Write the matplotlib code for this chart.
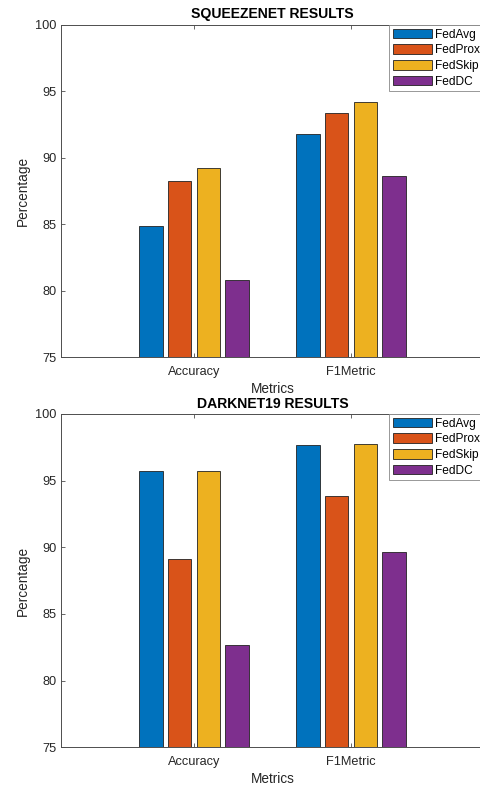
import matplotlib
matplotlib.use("Agg")
import matplotlib.pyplot as plt
import numpy as np

plt.rcParams['font.family'] = ['Liberation Sans', 'DejaVu Sans']

categories = ["Accuracy", "F1Metric"]
methods = ["FedAvg", "FedProx", "FedSkip", "FedDC"]
squeezenet_vals = {
    "FedAvg": [84.9, 91.77],
    "FedProx": [88.26, 93.36],
    "FedSkip": [89.22, 94.21],
    "FedDC": [80.79, 88.64],
}
darknet_vals = {
    "FedAvg": [95.7, 97.67],
    "FedProx": [89.1, 93.82],
    "FedSkip": [95.7, 97.72],
    "FedDC": [82.67, 89.65],
}
titles = ["SQUEEZENET RESULTS", "DARKNET19 RESULTS"]
colors = ["#0072BD", "#D95319", "#EDB120", "#7E2F8E"]

fig = plt.figure(figsize=(4.8, 7.87), dpi=100)
axes_rects = [
    [61/480, 1-357.3/787, (484-61)/480, 332.3/787],
    [61/480, 1-747.3/787, (484-61)/480, 333.3/787],
]
axcol = "#4d4d4d"
for k, (rect, data, title) in enumerate(zip(axes_rects, [squeezenet_vals, darknet_vals], titles)):
    ax = fig.add_axes(rect)
    x = np.arange(1, len(categories)+1)
    spacing = 0.183
    width = 0.148
    for i, m in enumerate(methods):
        off = (i - 1.5) * spacing
        ax.bar(x + off, np.array(data[m]) - 75, width, bottom=75, color=colors[i],
               edgecolor="#222222", linewidth=0.6, label=m)
    ax.set_xlim(0.153, 2.847)
    ax.set_ylim(75, 100)
    ax.set_yticks([75, 80, 85, 90, 95, 100])
    ax.set_xticks(x)
    ax.set_xticklabels(categories)
    ax.tick_params(axis='both', direction='in', length=3, width=0.6, colors=axcol,
                   labelsize=9.2, labelcolor="#262626", top=True, right=True)
    ax.tick_params(axis='x', pad=6.5)
    for s in ax.spines.values():
        s.set_color(axcol)
        s.set_linewidth(0.7)
    ax.set_title(title, fontsize=10.1, fontweight='bold', pad=5 if k == 0 else 4, color="#000000")
    ax.set_xlabel("Metrics", fontsize=9.8, color="#262626", labelpad=2.5)
    ax.set_ylabel("Percentage", fontsize=9.8, color="#262626", labelpad=3.5)
    leg = ax.legend(loc='upper right', bbox_to_anchor=(1.0, 1.0), borderaxespad=0.0,
                    fontsize=8.6, handlelength=3.3, handleheight=0.9, labelspacing=0.3,
                    handletextpad=0.25, borderpad=0.3, fancybox=False, framealpha=1,
                    edgecolor="#888888")
    leg.get_frame().set_linewidth(0.6)

fig.savefig("out.png", dpi=100)
